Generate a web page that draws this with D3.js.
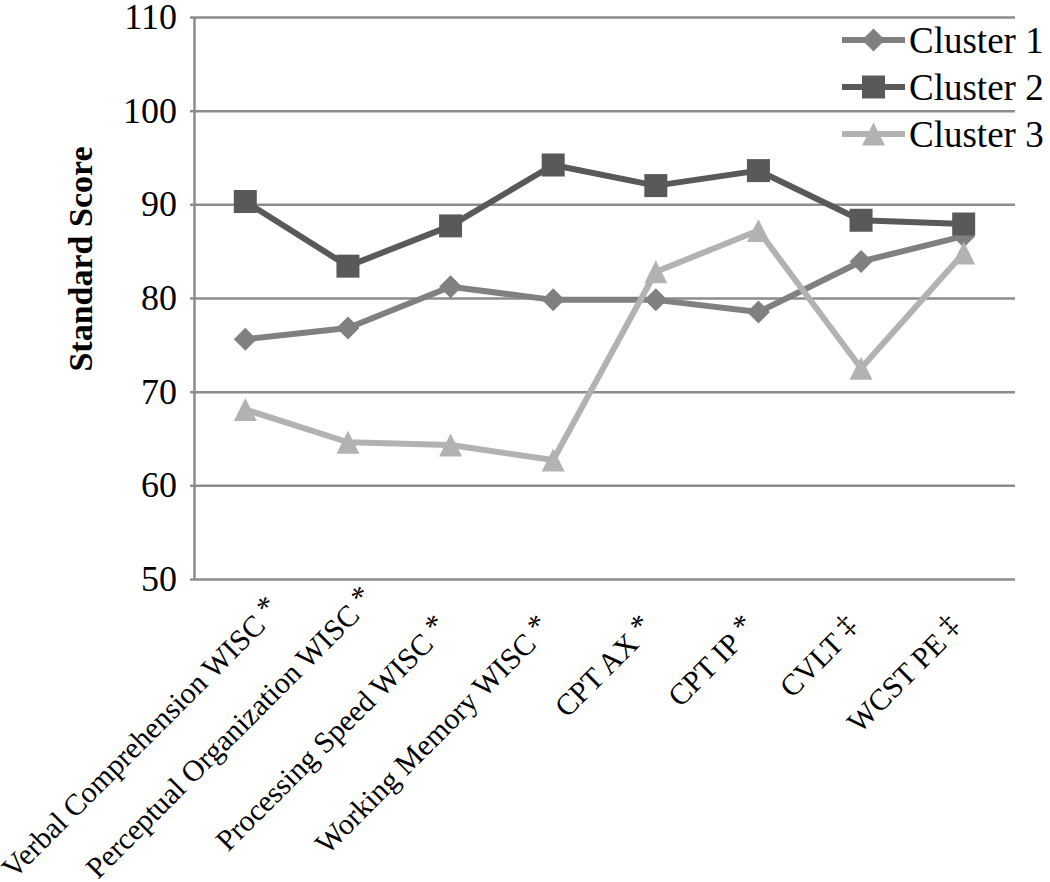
<!DOCTYPE html>
<html>
<head>
<meta charset="utf-8">
<script src="https://cdn.jsdelivr.net/npm/d3@7"></script>
<style>
  html, body { margin: 0; padding: 0; background: #fff; }
  svg { display: block; }
  text { font-family: "Liberation Serif", "Times New Roman", serif; fill: #000; }
</style>
</head>
<body>
<svg id="chart" width="1050" height="882"></svg>
<script>
// ---- data ----
const categories = [
  "Verbal Comprehension WISC",
  "Perceptual Organization WISC",
  "Processing Speed WISC",
  "Working Memory WISC",
  "CPT AX",
  "CPT IP",
  "CVLT",
  "WCST PE"
];
const categoryMarks = ["*", "*", "*", "*", "*", "*", "\u2021", "\u2021"];
const seriesNames = ["Cluster 1", "Cluster 2", "Cluster 3"];
const cluster1 = [75.6, 76.8, 81.2, 79.8, 79.8, 78.5, 83.9, 86.6];
const cluster2 = [90.3, 83.4, 87.7, 94.2, 92.0, 93.6, 88.3, 87.9];
const cluster3 = [68.1, 64.6, 64.3, 62.7, 82.8, 87.2, 72.5, 84.8];
const yTicks = [50, 60, 70, 80, 90, 100, 110];
const yTitle = "Standard Score";

// ---- styles ----
const colors = ["#808080", "#595959", "#b2b2b2"];
// custom marker shapes (size = half extent in px)
const diamondSym = { draw(ctx, r) { ctx.moveTo(0, -r); ctx.lineTo(r, 0); ctx.lineTo(0, r); ctx.lineTo(-r, 0); ctx.closePath(); } };
const squareSym = { draw(ctx, r) { ctx.rect(-r, -r, 2 * r, 2 * r); } };
const triangleSym = { draw(ctx, r) { ctx.moveTo(0, -r); ctx.lineTo(r, r); ctx.lineTo(-r, r); ctx.closePath(); } };
const symbols = [diamondSym, squareSym, triangleSym];
const symbolSizes = [11.5, 11.5, 11.5];
const gridColor = "#8c8c8c";

const svg = d3.select("#chart");
const pLeft = 194, pRight = 1015, pTop = 17, pBottom = 579;

const x = d3.scalePoint().domain(categories).range([pLeft, pRight]).padding(0.5);
const y = d3.scaleLinear().domain([50, 110]).range([pBottom, pTop]);

// gridlines
svg.append("g")
  .attr("transform", `translate(${pLeft},0)`)
  .call(d3.axisLeft(y).tickValues(yTicks).tickSize(-(pRight - pLeft)).tickFormat(""))
  .call(g => g.select(".domain").remove())
  .call(g => g.selectAll("line").attr("stroke", gridColor).attr("stroke-width", 2.5));

// y axis
const yAxis = svg.append("g")
  .attr("transform", `translate(${pLeft},0)`)
  .call(d3.axisLeft(y).tickValues(yTicks).tickSize(4).tickPadding(13).tickSizeOuter(0));
yAxis.select(".domain").attr("stroke", gridColor).attr("stroke-width", 2.5);
yAxis.selectAll(".tick line").attr("stroke", gridColor).attr("stroke-width", 2.5);
yAxis.selectAll(".tick text")
  .attr("font-family", "Liberation Serif")
  .attr("font-size", 36).attr("fill", "#000");

// y title
svg.append("text")
  .attr("transform", `translate(92,259) rotate(-90)`)
  .attr("text-anchor", "middle")
  .attr("font-size", 34).attr("font-weight", "bold")
  .text(yTitle);

// x labels
const xl = svg.append("g");
categories.forEach((c, i) => {
  let ex = x(c), ey = 630;
  const t = xl.append("text")
    .attr("text-anchor", "end")
    .attr("font-size", 30);
  t.append("tspan").text(c);
  t.append("tspan").attr("dx", 7).attr("dy", -5).text(categoryMarks[i]);
  const L = t.node().getComputedTextLength() + 7;
  const h = L * Math.SQRT1_2;
  // keep label above the bottom edge (slide along its own direction)
  if (ey + h > 880) { const d = ey + h - 880; ex += d; ey -= d; }
  // keep label inside the left edge
  if (ex - h < 14) { ex += 14 - (ex - h); }
  t.attr("transform", `translate(${ex},${ey}) rotate(-45)`);
});

// series
const allSeries = [cluster1, cluster2, cluster3];
const line = d3.line().x((d, i) => x(categories[i])).y(d => y(d));
allSeries.forEach((s, k) => {
  const g = svg.append("g");
  g.append("path").datum(s)
    .attr("d", line)
    .attr("fill", "none")
    .attr("stroke", colors[k])
    .attr("stroke-width", 6)
    .attr("stroke-linejoin", "round");
  g.selectAll("path.m").data(s).join("path")
    .attr("class", "m")
    .attr("transform", (d, i) => `translate(${x(categories[i])},${y(d)})`)
    .attr("d", d3.symbol().type(symbols[k]).size(symbolSizes[k]))
    .attr("fill", colors[k]);
});

// legend
const lg = svg.append("g");
seriesNames.forEach((n, k) => {
  const ly = 40 + k * 47;
  lg.append("line").attr("x1", 842).attr("x2", 905).attr("y1", ly).attr("y2", ly)
    .attr("stroke", colors[k]).attr("stroke-width", 6);
  lg.append("path").attr("transform", `translate(873.5,${ly})`)
    .attr("d", d3.symbol().type(symbols[k]).size(symbolSizes[k]))
    .attr("fill", colors[k]);
  lg.append("text").attr("x", 909).attr("y", ly + 13)
    .attr("font-size", 37).text(n);
});
</script>
</body>
</html>
